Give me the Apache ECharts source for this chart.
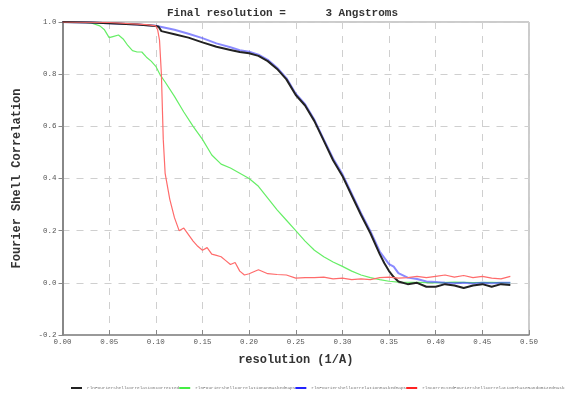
<!DOCTYPE html>
<html>
<head>
<meta charset="utf-8">
<script src="https://cdn.jsdelivr.net/npm/echarts@6/dist/echarts.min.js"></script>
<style>
html,body{margin:0;padding:0;background:#fff;}
#container{width:565px;height:396px;}
</style>
</head>
<body>
<div id="container"></div>
<script>
// FSC curves
var seriesNames = [
	'rlnFourierShellCorrelationCorrected',
	'rlnFourierShellCorrelationUnmaskedMaps',
	'rlnFourierShellCorrelationMaskedMaps',
	'rlnCorrectedFourierShellCorrelationPhaseRandomizedMaskedMaps'
];
var xTicks = ['0.00','0.05','0.10','0.15','0.20','0.25','0.30','0.35','0.40','0.45','0.50'];
var yTicks = ['-0.2','0.0','0.2','0.4','0.6','0.8','1.0'];

var correctedX = [0.00,0.03,0.05,0.08,0.10,0.103,0.106,0.12,0.135,0.15,0.165,0.18,0.19,0.20,0.21,0.22,0.23,0.24,0.25,0.26,0.27,0.28,0.29,0.30,0.31,0.32,0.33,0.34,0.345,0.35,0.355,0.36,0.37,0.38,0.39,0.40,0.41,0.42,0.43,0.44,0.45,0.46,0.47,0.48];
var correctedY = [1.000,0.998,0.995,0.990,0.985,0.982,0.965,0.953,0.940,0.922,0.905,0.893,0.885,0.880,0.870,0.850,0.820,0.780,0.720,0.680,0.620,0.545,0.470,0.410,0.335,0.260,0.190,0.110,0.075,0.045,0.022,0.005,-0.005,0.000,-0.015,-0.015,-0.005,-0.010,-0.020,-0.010,-0.005,-0.015,-0.005,-0.008];

var unmaskedX = [0.00,0.02,0.03,0.04,0.045,0.05,0.055,0.06,0.065,0.07,0.075,0.08,0.085,0.09,0.095,0.10,0.105,0.11,0.12,0.13,0.14,0.15,0.16,0.17,0.18,0.19,0.20,0.21,0.22,0.23,0.24,0.25,0.26,0.27,0.28,0.29,0.30,0.31,0.32,0.33,0.34,0.35,0.36,0.38,0.40,0.42,0.44,0.46,0.48];
var unmaskedY = [1.000,1.000,0.997,0.985,0.970,0.940,0.945,0.950,0.935,0.910,0.890,0.885,0.885,0.865,0.850,0.830,0.795,0.770,0.715,0.655,0.600,0.550,0.490,0.455,0.440,0.420,0.400,0.370,0.325,0.280,0.240,0.200,0.160,0.125,0.100,0.080,0.063,0.045,0.030,0.020,0.012,0.006,0.003,0.002,0.000,0.003,0.001,0.002,0.000];

var maskedX = [0.00,0.03,0.05,0.08,0.10,0.11,0.12,0.135,0.15,0.165,0.18,0.19,0.20,0.21,0.22,0.23,0.24,0.25,0.26,0.27,0.28,0.29,0.30,0.31,0.32,0.33,0.34,0.35,0.355,0.36,0.37,0.38,0.39,0.40,0.41,0.42,0.43,0.44,0.45,0.46,0.47,0.48];
var maskedY = [1.000,0.998,0.995,0.990,0.986,0.978,0.970,0.955,0.938,0.918,0.903,0.892,0.886,0.875,0.855,0.825,0.785,0.725,0.685,0.625,0.550,0.477,0.417,0.342,0.267,0.198,0.120,0.072,0.062,0.037,0.020,0.015,0.005,0.003,0.000,-0.002,0.000,-0.003,0.000,-0.002,0.000,0.000];

var randomX = [0.00,0.05,0.09,0.10,0.102,0.104,0.106,0.108,0.11,0.115,0.12,0.125,0.13,0.135,0.14,0.145,0.15,0.155,0.16,0.165,0.17,0.175,0.18,0.185,0.19,0.195,0.20,0.21,0.22,0.23,0.24,0.25,0.26,0.27,0.28,0.29,0.30,0.31,0.32,0.33,0.34,0.35,0.36,0.37,0.38,0.39,0.40,0.41,0.42,0.43,0.44,0.45,0.46,0.47,0.48];
var randomY = [1.000,0.998,0.990,0.985,0.970,0.930,0.800,0.550,0.420,0.320,0.250,0.200,0.210,0.185,0.160,0.140,0.125,0.135,0.110,0.105,0.100,0.085,0.070,0.078,0.045,0.030,0.035,0.050,0.035,0.032,0.030,0.018,0.020,0.020,0.022,0.015,0.018,0.012,0.015,0.012,0.020,0.022,0.018,0.020,0.025,0.020,0.025,0.030,0.022,0.028,0.020,0.025,0.018,0.015,0.025];

function pairs(xs, ys){
	return xs.map(function(x, i){ return [x, ys[i]]; });
}

var mono = '"Liberation Mono", "DejaVu Sans Mono", monospace';
var dom = document.getElementById('container');
var myChart = echarts.init(dom);

var option = {
	animation: false,
	backgroundColor: '#fff',
	title: {
		text: 'Final resolution =      3 Angstroms',
		left: 'center',
		top: 3,
		textStyle: {fontFamily: mono, fontSize: 11, fontWeight: 'bold', color: '#333'}
	},
	legend: {
		left: 66,
		top: 381,
		width: 1200,
		itemGap: 0,
		itemWidth: 11,
		itemHeight: 2,
		icon: 'rect',
		textStyle: {fontFamily: mono, fontSize: 4.4, color: '#777'},
		data: seriesNames
	},
	grid: {
		left: 62.5,
		right: 36,
		top: 22,
		bottom: 61,
		show: true,
		borderColor: '#999',
		borderWidth: 1
	},
	xAxis: {
		type: 'value',
		min: 0,
		max: 0.5,
		interval: 0.05,
		name: 'resolution (1/A)',
		nameLocation: 'middle',
		nameGap: 19,
		nameTextStyle: {fontFamily: mono, fontSize: 12, fontWeight: 'bold', color: '#333'},
		axisLine: {onZero: false, lineStyle: {color: '#888', width: 1.5}},
		axisTick: {inside: true, length: 5, lineStyle: {color: '#888'}},
		axisLabel: {
			fontFamily: mono, fontSize: 7.5, color: '#555', margin: 3,
			formatter: function(v){ return xTicks[Math.round(v / 0.05)]; }
		},
		splitLine: {show: true, lineStyle: {color: '#cfcfcf', type: [7, 7], width: 1}}
	},
	yAxis: {
		type: 'value',
		min: -0.2,
		max: 1.0,
		interval: 0.2,
		name: 'Fourier Shell Correlation',
		nameLocation: 'middle',
		nameGap: 40,
		nameTextStyle: {fontFamily: mono, fontSize: 12, fontWeight: 'bold', color: '#333'},
		axisLine: {show: true, onZero: false, lineStyle: {color: '#888', width: 2}},
		axisTick: {show: true, inside: false, length: 4, lineStyle: {color: '#888'}},
		axisLabel: {
			fontFamily: mono, fontSize: 7.5, color: '#555', margin: 6,
			formatter: function(v){ return yTicks[Math.round((v + 0.2) / 0.2)]; }
		},
		splitLine: {show: true, lineStyle: {color: '#cfcfcf', type: [7, 7], width: 1}}
	},
	series: [{
		name: seriesNames[0],
		type: 'line',
		showSymbol: false,
		color: '#222',
		lineStyle: {width: 2, color: '#222'},
		z: 3,
		data: pairs(correctedX, correctedY)
	}, {
		name: seriesNames[1],
		type: 'line',
		showSymbol: false,
		color: '#44ee44',
		lineStyle: {width: 1.2, color: '#66ee66'},
		z: 2,
		data: pairs(unmaskedX, unmaskedY)
	}, {
		name: seriesNames[2],
		type: 'line',
		showSymbol: false,
		color: '#2222ff',
		lineStyle: {width: 2, color: 'rgba(60,60,255,0.6)'},
		z: 2,
		data: pairs(maskedX, maskedY)
	}, {
		name: seriesNames[3],
		type: 'line',
		showSymbol: false,
		color: '#ff2222',
		lineStyle: {width: 1.2, color: '#ff6b6b'},
		z: 4,
		data: pairs(randomX, randomY)
	}]
};
myChart.setOption(option, true);
</script>
</body>
</html>
